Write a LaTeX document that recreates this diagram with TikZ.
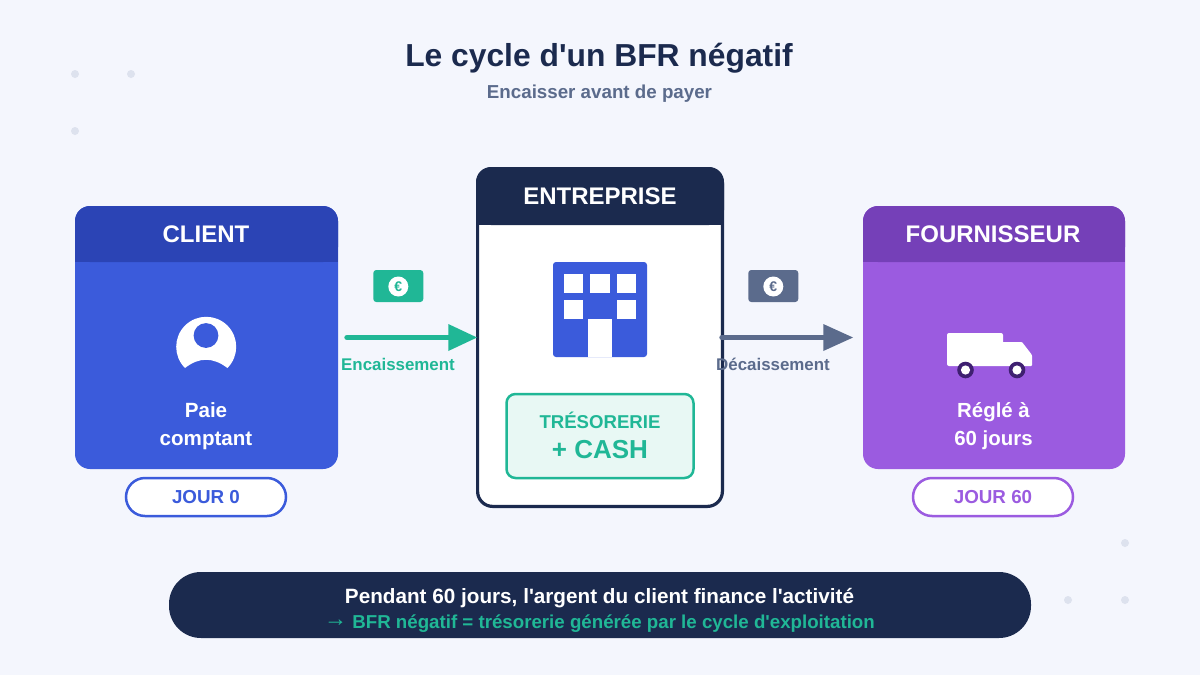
\documentclass[tikz,border=0pt]{standalone}
\usepackage{fontspec}
\defaultfontfeatures[\rmfamily]{}
\setmainfont{Liberation Sans}
\usetikzlibrary{calc}
\definecolor{bgc}{HTML}{F4F6FD}
\definecolor{navy}{HTML}{1B2A4E}
\definecolor{slate}{HTML}{5B6B8C}
\definecolor{blue}{HTML}{3B5BDB}
\definecolor{bluedk}{HTML}{2B44B5}
\definecolor{purple}{HTML}{9B5BE0}
\definecolor{purpledk}{HTML}{7540B8}
\definecolor{teal}{HTML}{20B796}
\definecolor{tealbg}{HTML}{E8F8F4}
\definecolor{wheel}{HTML}{3F2071}
\definecolor{dotc}{HTML}{DDE2EE}
\newcommand{\fsz}[1]{\bfseries\fontsize{#1}{#1}\selectfont}
\tikzset{
  txt/.style={inner sep=0pt},
  btxt/.style={inner sep=0pt,anchor=base},
  deco/.style={fill=dotc,draw=none},
  pill/.style={draw,line width=2.5pt,fill=white,rounded corners=19pt,minimum width=160pt,minimum height=38pt,inner sep=0pt,font=\fsz{18.8}},
  bill/.style={rounded corners=3pt,minimum width=50pt,minimum height=32pt,inner sep=0pt},
  euro/.style={circle,fill=white,minimum size=20pt,inner sep=0pt,font=\fsz{14}},
  flow/.style={line width=5.4pt,line cap=round},
}
\begin{document}
\begin{tikzpicture}[x=1pt,y=-1pt]
\useasboundingbox (0,0) rectangle (1200,675);
\fill[bgc] (0,0) rectangle (1200,675);
% decorative dots
\foreach \p in {(75,74),(131,74),(75,131),(1125,543),(1068,600),(1125,600)}
  \fill[deco] \p circle (4pt);
% title
\node[btxt,text=navy,font=\fsz{31.8}] (title) at (599,66) {Le cycle d'un BFR négatif};
\node[btxt,text=slate,font=\fsz{18.75}] (subtitle) at (599.5,98) {Encaisser avant de payer};
% client card
\fill[blue,rounded corners=15pt] (75,206) rectangle (338,469);
\fill[bluedk,rounded corners=15pt] (75,262) -- (75,206) -- (338,206) -- (338,262) -- cycle;
\fill[bluedk] (75,240) rectangle (338,262);
\node[txt,text=white,font=\fsz{24}] (clienthead) at (206,234) {CLIENT};
\fill[white] (185,368) arc[start angle=225,end angle=-45,radius=30pt] .. controls (213,357) and (199,357) .. (185,368) -- cycle;
\fill[blue] (206,335.5) circle (12.4pt);
\node[btxt,text=white,font=\fsz{20.6}] (clientlab1) at (206,417) {Paie};
\node[btxt,text=white,font=\fsz{20.6}] (clientlab2) at (206,445) {comptant};
\node[pill,draw=blue,text=blue] (j0) at (206,497) {JOUR 0};
% fournisseur card
\fill[purple,rounded corners=15pt] (863,206) rectangle (1125,469);
\fill[purpledk,rounded corners=15pt] (863,262) -- (863,206) -- (1125,206) -- (1125,262) -- cycle;
\fill[purpledk] (863,240) rectangle (1125,262);
\node[txt,text=white,font=\fsz{24}] (fourhead) at (993,234) {FOURNISSEUR};
\fill[white,rounded corners=2pt] (947,333) rectangle (1003,366);
\fill[white,rounded corners=1pt] (1000,342) -- (1022,342) -- (1032,355) -- (1032,366) -- (1000,366) -- cycle;
\foreach \x in {965.5,1017}{
  \fill[wheel] (\x,370) circle (8.3pt);
  \fill[white] (\x,370) circle (4.6pt);
}
\node[btxt,text=white,font=\fsz{20.4}] (fourlab1) at (993.5,417) {Réglé à};
\node[btxt,text=white,font=\fsz{20.4}] (fourlab2) at (993.5,445) {60 jours};
\node[pill,draw=purple,text=purple] (j60) at (993,497) {JOUR 60};
% entreprise card
\fill[white,rounded corners=15pt] (477.5,168) rectangle (722.5,507);
\fill[navy,rounded corners=15pt] (476,225) -- (476,167) -- (724,167) -- (724,225) -- cycle;
\fill[navy] (476,205) rectangle (724,225);
\draw[navy,line width=3.2pt,rounded corners=15pt] (477.6,168.6) rectangle (722.4,506.4);
\node[txt,text=white,font=\fsz{24}] (enthead) at (600,196) {ENTREPRISE};
% building
\fill[blue,rounded corners=3pt] (553,262) rectangle (647,357);
\foreach \x/\y in {564/273.5,590.3/273.5,616.5/273.5,564/300,616.5/300}
  \fill[white] (\x,\y) rectangle ++(19.4,19.2);
\fill[white] (588.3,319) rectangle (611.5,357);
% treasury
\node[draw=teal,fill=tealbg,line width=2.5pt,rounded corners=9pt,minimum width=187pt,minimum height=84pt,inner sep=0pt] (tresor) at (600,436) {};
\node[txt,text=teal,font=\fsz{18.6}] (tlab1) at (600,420) {TRÉSORERIE};
\node[txt,text=teal,font=\fsz{26}] (tlab2) at (600,450) {+ CASH};
% bills
\node[bill,fill=teal] (bill1) at (398.3,286) {};
\node[euro,text=teal] (eur1) at (398.3,286.5) {€};
\node[bill,fill=slate] (bill2) at (773.3,286) {};
\node[euro,text=slate] (eur2) at (773.3,286.5) {€};
% arrows
\coordinate (a1s) at (347,337.5);
\coordinate (a1b) at (449,337.5);
\coordinate (a2s) at (722,337.5);
\coordinate (a2b) at (824,337.5);
\draw[flow,teal] (a1s) -- (a1b);
\fill[teal] (448.3,324) -- (477,337.5) -- (448.3,351) -- cycle;
\draw[flow,slate] (a2s) -- (a2b);
\fill[slate] (823.3,324) -- (853,337.5) -- (823.3,351) -- cycle;
\node[txt,text=teal,font=\fsz{16.9}] (enc) at (398,364.5) {Encaissement};
\node[txt,text=slate,font=\fsz{16.9}] (dec) at (773,364.5) {Décaissement};
% banner
\fill[navy,rounded corners=32pt] (169,572) rectangle (1031,638);
\node[btxt,text=white,font=\fsz{20.7}] (ban1) at (599.5,603) {Pendant 60 jours, l'argent du client finance l'activité};
\node[btxt,text=teal,font=\fsz{18.7}] (ban2) at (599.5,628) {\raisebox{1.5pt}{\fontsize{23}{23}\mdseries\selectfont →} BFR négatif = trésorerie générée par le cycle d'exploitation};
\end{tikzpicture}
\end{document}
